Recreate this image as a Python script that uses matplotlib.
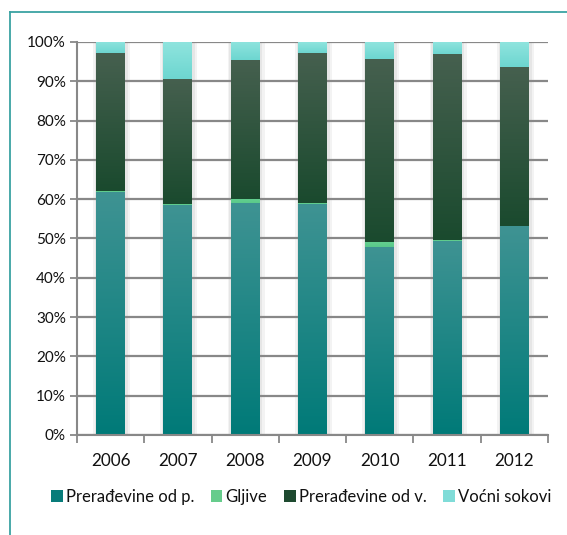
import matplotlib
matplotlib.use("Agg")
import matplotlib.pyplot as plt
import numpy as np
from matplotlib.colors import LinearSegmentedColormap
from matplotlib.patches import Patch
from matplotlib.lines import Line2D

years = ["2006", "2007", "2008", "2009", "2010", "2011", "2012"]
preradjevine_p = [61.9, 58.6, 59.1, 58.9, 47.9, 49.4, 53.1]
gljive = [0.2, 0.1, 0.9, 0.1, 1.2, 0.1, 0.1]
preradjevine_v = [35.1, 31.9, 35.4, 38.3, 46.6, 47.5, 40.5]
vocni_sokovi = [2.8, 9.4, 4.6, 2.7, 4.3, 3.0, 6.3]
series_names = ["Prerađevine od p.", "Gljive", "Prerađevine od v.", "Voćni sokovi"]
yticks = [0, 10, 20, 30, 40, 50, 60, 70, 80, 90, 100]

plt.rcParams['font.family'] = ['Lato', 'DejaVu Sans']

W, H = 567, 535
fig = plt.figure(figsize=(W / 100, H / 100), dpi=100)
ax = fig.add_axes([77 / W, 1 - 435 / H, (548 - 77) / W, (435 - 42) / H])

# frame lines (top and left)
frame_col = "#3aa3a3"
fig.add_artist(Line2D([10 / W, 1], [1 - 12 / H, 1 - 12 / H], color=frame_col, lw=1.3, transform=fig.transFigure))
fig.add_artist(Line2D([10 / W, 10 / W], [0, 1 - 12 / H], color=frame_col, lw=1.3, transform=fig.transFigure))

x = np.arange(len(years))
bw = 0.43

grads = [("#3f9393", "#007a78"),   # top, bottom
         ("#63cf8f", "#5ac98a"),
         ("#46604f", "#1a4a2e"),
         ("#8fe4de", "#6dd6d0")]
legend_cols = ["#087c7a", "#66cc8c", "#1e4a30", "#80dcd8"]

data = [preradjevine_p, gljive, preradjevine_v, vocni_sokovi]

# shadows
for xi in x:
    ax.bar(xi + 0.015, 100, width=bw + 0.12, color="#f3f3f3", zorder=1, linewidth=0)
    ax.bar(xi + 0.01, 100, width=bw + 0.06, color="#e6e6e6", zorder=1.2, linewidth=0)

grad = np.linspace(0, 1, 256).reshape(-1, 1)
bottoms = np.zeros(len(years))
for s, vals in enumerate(data):
    top_c, bot_c = grads[s]
    cmap = LinearSegmentedColormap.from_list("g%d" % s, [bot_c, top_c])
    for i, v in enumerate(vals):
        b = bottoms[i]
        ax.imshow(grad, extent=[x[i] - bw / 2, x[i] + bw / 2, b, b + v], origin="lower",
                  aspect="auto", cmap=cmap, zorder=3, interpolation="bilinear")
    bottoms += np.array(vals)

ax.set_xlim(-0.5, len(years) - 0.5)
ax.set_ylim(0, 100)

ax.set_yticks(yticks)
ax.set_yticklabels([f"{t}%" for t in yticks])
ax.yaxis.grid(True, color="#888888", linewidth=1.6, zorder=2)
ax.set_axisbelow(False)
for gl in ax.get_ygridlines():
    gl.set_zorder(2)

ax.set_xticks(x)
ax.set_xticklabels(years)
ax.set_xticks(np.arange(-0.5, len(years), 1), minor=True)
ax.tick_params(axis="x", which="major", length=0, pad=13, labelsize=12.3, colors="#111111")
ax.tick_params(axis="x", which="minor", length=6, width=1.3, color="#888888")
ax.tick_params(axis="y", length=5, width=1.3, color="#888888", labelsize=11, pad=3, labelcolor="#111111")

for sp in ["top", "right"]:
    ax.spines[sp].set_visible(False)
for sp in ["left", "bottom"]:
    ax.spines[sp].set_color("#888888")
    ax.spines[sp].set_linewidth(1.5)
    ax.spines[sp].set_zorder(4)

handles = [Patch(facecolor=c, edgecolor="none") for c in legend_cols]
fig.legend(handles, series_names, loc="center", bbox_to_anchor=(301 / W, 1 - 497 / H), ncol=4,
           frameon=False, fontsize=12, handlelength=0.7, handleheight=0.7, handletextpad=0.18,
           columnspacing=1.0, borderaxespad=0, labelcolor="#111111")

fig.savefig("out.png", dpi=100)
